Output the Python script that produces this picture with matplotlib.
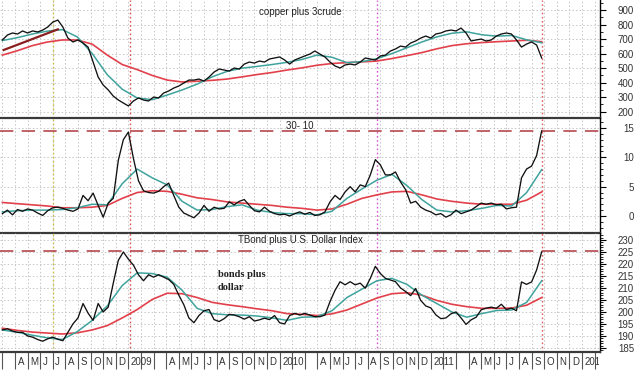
import matplotlib
matplotlib.use("Agg")
import matplotlib.pyplot as plt
import numpy as np
from matplotlib.transforms import Bbox, TransformedBbox, blended_transform_factory

plt.rcParams["font.family"] = ["Liberation Sans", "DejaVu Sans"]

# time axis in months counted from Jan 2008 (2.0 = Mar 1 2008)
price_t = np.linspace(2.0, 44.8, 108)
avg_t = np.linspace(2.0, 44.8, 37)

copper = [
    694, 728, 742, 735, 756, 742, 756, 749, 762, 783,
    817, 831, 783, 707, 680, 694, 673, 645, 542, 439,
    384, 350, 308, 281, 260, 240, 274, 295, 281, 274,
    301, 295, 329, 343, 363, 377, 398, 418, 418, 425,
    411, 439, 473, 494, 487, 480, 501, 494, 528, 542,
    535, 549, 542, 563, 570, 577, 556, 528, 556, 570,
    584, 597, 618, 597, 577, 542, 515, 501, 522, 528,
    522, 542, 570, 563, 556, 584, 590, 618, 632, 652,
    645, 673, 687, 707, 721, 707, 735, 742, 756, 762,
    756, 776, 742, 687, 694, 700, 687, 694, 721, 735,
    742, 735, 694, 645, 666, 680, 659, 570,
]
copper_fast = [
    690, 710, 735, 755, 765, 715, 600, 455, 355, 295, 283, 315, 350,
    390, 440, 478, 500, 512, 525, 540, 560, 590, 575, 538, 545, 565,
    600, 640, 680, 715, 740, 750, 730, 720, 725, 695, 675,
]
copper_slow = [
    590, 620, 655, 680, 694, 694, 665, 590, 525, 490, 450, 418, 405,
    410, 416, 425, 440, 456, 470, 487, 502, 520, 532, 538, 543, 549,
    566, 586, 607, 633, 655, 668, 676, 682, 687, 692, 682,
]
trend_t = [2.1, 6.4]
trend_v = [625, 767]

spread = [
    0.4, 1.0, 0.2, 1.1, 0.8, 1.2, 1.0, 0.5, 0.1, 0.9,
    1.4, 1.5, 1.3, 1.0, 0.8, 1.2, 3.5, 2.6, 3.9, 1.8,
    -0.2, 2.2, 3.0, 9.5, 13.0, 14.3, 9.8, 6.0, 4.3, 4.0,
    3.9, 4.2, 5.0, 5.6, 3.5, 1.5, 0.5, 0.1, -0.3, 0.5,
    1.8, 0.8, 1.5, 1.2, 1.3, 2.4, 1.9, 2.5, 2.8, 1.8,
    0.9, 0.7, 1.5, 0.8, 0.4, 0.2, 0.3, 0.0, 0.4, 0.7,
    0.3, 0.6, 0.1, 0.2, 0.7, 2.4, 3.5, 2.8, 4.1, 5.0,
    4.1, 5.3, 5.0, 7.0, 9.6, 8.7, 7.0, 7.0, 7.5, 5.8,
    4.5, 2.2, 2.5, 1.5, 1.0, 0.7, 0.2, 0.4, -0.2, 0.2,
    1.0, 0.4, 0.7, 1.0, 1.6, 2.2, 2.0, 2.2, 1.9, 2.0,
    1.2, 1.4, 1.5, 6.5, 8.0, 8.5, 10.3, 14.5,
]
spread_fast = [
    0.7, 0.9, 1.0, 1.0, 1.1, 1.4, 2.0, 1.9, 5.5, 8.0, 6.5, 5.3, 2.5,
    1.0, 1.1, 1.6, 1.9, 1.0, 0.6, 0.4, 0.4, 0.2, 0.8, 3.0, 4.6, 6.1,
    7.1, 5.2, 2.8, 1.0, 0.7, 0.9, 1.3, 1.8, 1.7, 4.0, 7.9,
]
spread_slow = [
    2.3, 2.1, 1.9, 1.7, 1.4, 1.4, 1.5, 1.8, 3.0, 4.0, 4.3, 4.2, 3.7,
    3.1, 2.8, 2.4, 2.2, 2.0, 1.8, 1.5, 1.3, 1.0, 1.2, 2.0, 3.0, 3.6,
    4.1, 4.2, 3.6, 2.9, 2.5, 2.2, 2.0, 2.0, 2.0, 2.7, 4.1,
]

bonds = [
    192.5, 193.0, 192.0, 191.5, 191.5, 190.0, 189.5, 188.5, 187.8, 188.8,
    189.5, 188.6, 188.0, 191.5, 195.0, 197.5, 203.5, 199.5, 196.5, 203.5,
    200.0, 202.0, 212.0, 221.5, 225.0, 222.0, 219.5, 215.5, 213.0, 215.5,
    214.5, 215.5, 214.5, 213.5, 211.5, 207.0, 203.0, 197.5, 195.5, 198.5,
    200.5, 201.0, 196.8, 196.0, 197.2, 199.0, 198.7, 198.0, 197.0, 198.0,
    196.2, 196.7, 197.4, 196.8, 198.5, 195.5, 195.0, 198.5, 199.4, 198.7,
    199.4, 198.7, 198.0, 198.0, 198.7, 204.3, 209.0, 212.6, 211.3, 212.6,
    211.3, 212.0, 209.9, 214.0, 219.0, 216.0, 214.0, 213.3, 212.6, 210.0,
    208.5, 206.8, 209.8, 204.8, 202.5, 201.7, 198.8, 197.2, 197.5, 199.2,
    200.0, 197.5, 194.8, 196.7, 197.8, 200.9, 201.6, 202.0, 201.5, 203.2,
    201.0, 201.6, 200.5, 212.5, 211.5, 212.5, 217.5, 225.0,
]
bonds_fast = [
    192.5, 191.5, 190.3, 189.2, 188.5, 191.8, 196.5, 202.5, 211.0, 216.3,
    216.0, 214.5, 209.0, 201.5, 199.3, 198.8, 198.7, 198.3, 197.5, 196.5,
    197.8, 198.0, 200.5, 206.0, 209.5, 213.0, 214.0, 211.5, 207.0, 203.5,
    200.0, 197.8, 199.3, 200.6, 200.8, 204.0, 213.0,
]
bonds_slow = [
    193.2, 192.3, 191.6, 191.2, 190.8, 191.3, 192.5, 194.3, 197.5, 201.0,
    205.2, 207.8, 207.6, 206.0, 204.0, 203.0, 202.2, 201.3, 200.5, 199.3,
    199.0, 198.5, 199.2, 200.8, 203.3, 205.8, 207.6, 208.0, 207.0, 204.8,
    203.2, 202.2, 201.5, 201.5, 201.6, 202.8, 206.0,
]

copper_ticks = [200, 300, 400, 500, 600, 700, 800, 900]
spread_ticks = [0, 5, 10, 15]
bonds_ticks = [185, 190, 195, 200, 205, 210, 215, 220, 225, 230]

# month boundaries Mar 2008 .. Feb 2012 and their labels
month_t = list(range(2, 50))
month_names = ["", "", "", "A", "M", "J", "J", "A", "S", "O", "N", "D"]

# marker dates (months from Jan 2008)
events = [(6.02, "#c8c04a"), (12.13, "#d9534f"), (31.73, "#d25ad2"), (44.8, "#e06060")]

TEAL = "#3fa39d"
RED = "#e2404a"
GRID = "#c6c6c6"

W, H = 640, 373
fig = plt.figure(figsize=(W / 100, H / 100), dpi=100)


def panel(top_px, bottom_px):
    return fig.add_axes([0, 1 - bottom_px / H, 600 / W, (bottom_px - top_px) / H])


ax1 = panel(0, 118)
ax2 = panel(118, 233)
ax3 = panel(233, 352)

setups = [
    (ax1, copper, copper_fast, copper_slow, (157, 969), copper_ticks, 50),
    (ax2, spread, spread_fast, spread_slow, (-2.9, 16.7), spread_ticks, 1),
    (ax3, bonds, bonds_fast, bonds_slow, (183.3, 232.9), bonds_ticks, 1),
]

for ax, price, fast, slow, ylim, ticks, minor in setups:
    ax.plot(price_t, price, color="#111111", lw=0.95, zorder=5)
    ax.plot(avg_t, fast, color=TEAL, lw=1.1, zorder=4)
    ax.plot(avg_t, slow, color=RED, lw=1.2, zorder=3)
    for t, c in events:
        ax.axvline(t, color=c, lw=1.0, linestyle=(0, (1.2, 1.8)), zorder=2)

    ax.set_xlim(1.81, 49.43)
    ax.set_ylim(*ylim)
    ax.set_xticks(month_t)
    ax.set_yticks(ticks)
    ax.set_yticklabels([str(v) for v in ticks], ha="right")
    ax.yaxis.set_minor_locator(plt.MultipleLocator(minor))
    ax.yaxis.tick_right()
    ax.tick_params(axis="y", which="major", length=4, width=0.8, pad=20.5,
                   labelsize=7, labelcolor="#333333")
    ax.tick_params(axis="y", which="minor", length=2, width=0.6)
    ax.tick_params(axis="x", length=0, labelbottom=False)
    ax.grid(True, color=GRID, lw=0.7, linestyle=(0, (1.5, 2.2)), zorder=0)

    for side in ("left", "top"):
        ax.spines[side].set_visible(False)
    ax.spines["right"].set_color("black")
    ax.spines["right"].set_linewidth(1.0)
    ax.spines["bottom"].set_color("#3a3a3a")
    ax.spines["bottom"].set_linewidth(1.6)
    ax.set_facecolor("none")

ax1.plot(trend_t, trend_v, color="#8a1f1f", lw=1.6, zorder=6)

ax2.axhline(14.45, color="#b5484d", lw=1.2, linestyle=(0, (8, 5)), zorder=2)
ax3.axhline(225.3, color="#b5484d", lw=1.2, linestyle=(0, (8, 5)), zorder=2)

ax1.text(0.5, 1 - 12 / 118, "copper plus 3crude", transform=ax1.transAxes,
         ha="center", va="center", fontsize=7, color="#222222")
ax2.text(0.5, 1 - 8 / 115, "30- 10", transform=ax2.transAxes,
         ha="center", va="center", fontsize=7, color="#222222")
ax3.text(0.5, 1 - 7 / 119, "TBond plus U.S. Dollar Index", transform=ax3.transAxes,
         ha="center", va="center", fontsize=7, color="#222222")
ax3.text(218 / 600, (352 - 270) / 119, "bonds plus\ndollar", transform=ax3.transAxes,
         ha="left", va="top", fontsize=7.5, fontweight="bold",
         family=["Liberation Serif", "DejaVu Serif"], color="#222222", linespacing=1.55)

# month separators and labels under the bottom panel
ax3.tick_params(axis="x", length=12, width=0.8, color="#555555", direction="out")
clip = TransformedBbox(Bbox([[0, 0], [599 / W, 1]]), fig.transFigure)
label_tf = blended_transform_factory(ax3.transData, fig.transFigure)
for m in month_t:
    month = m % 12
    label = str(2008 + m // 12) if month == 0 else month_names[month]
    if not label:
        continue
    txt = fig.text(m + 0.2, 1 - 362 / H, label, transform=label_tf,
                   ha="left", va="center", fontsize=7, color="#333333")
    txt.set_clip_box(clip)
    txt.set_clip_on(True)

fig.savefig("out.png", dpi=100)
